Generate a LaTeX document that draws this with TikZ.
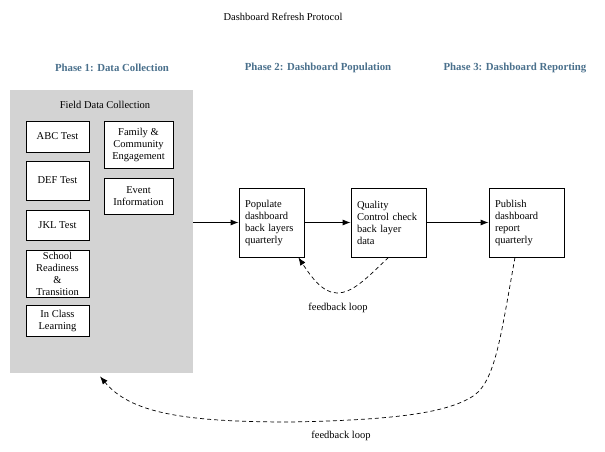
\documentclass[tikz,border=0pt]{standalone}
\usepackage{fontspec}
\setmainfont{Liberation Serif}
\usetikzlibrary{arrows.meta,calc}
\definecolor{phaseblue}{RGB}{74,112,140}
\definecolor{panelgray}{RGB}{211,211,211}
\tikzset{
  txt/.style={font=\fontsize{10.5}{12}\selectfont},
  phase/.style={font=\fontsize{10.8}{12}\selectfont\bfseries, text=phaseblue},
  inbox/.style={draw, line width=0.8pt, fill=white, txt, align=center, inner sep=1pt},
  stepbox/.style={draw, line width=0.8pt, fill=white, txt, align=left, inner xsep=6pt, inner ysep=0pt, minimum height=69pt},
  flow/.style={line width=0.8pt, -{Latex[length=8pt,width=6pt]}},
  fb/.style={line width=0.7pt, dash pattern=on 4pt off 3pt, -{Latex[length=8pt,width=6pt]}}
}
\begin{document}
\begin{tikzpicture}[x=1pt,y=-1pt]
\useasboundingbox (0,0) rectangle (605,452);
% title and phases
\node[txt] (title) at (283,17) {Dashboard Refresh Protocol};
\node[phase] (ph1) at (112,68) {Phase 1: Data Collection};
\node[phase] (ph2) at (318,68) {Phase 2: Dashboard Population};
\node[phase] (ph3) at (515,68) {Phase 3: Dashboard Reporting};
% gray panel
\node[fill=panelgray, minimum width=183pt, minimum height=283pt, inner sep=0pt, anchor=north west] (field) at (10,90) {};
\node[txt] (fieldlbl) at (105,105) {Field Data Collection};
% inner boxes
\node[inbox, minimum width=63pt, minimum height=31pt] (abc) at (57.5,136.5) {ABC Test};
\node[inbox, minimum width=63pt, minimum height=39pt] (def) at (57.5,180.5) {DEF Test};
\node[inbox, minimum width=63pt, minimum height=30pt] (jkl) at (57.5,225) {JKL Test};
\node[inbox, minimum width=63pt, minimum height=47pt] (school) at (57.5,273.5) {School\\Readiness\\\&\\Transition};
\node[inbox, minimum width=63pt, minimum height=31pt] (class) at (57.5,320.5) {In Class\\Learning};
\node[inbox, minimum width=69pt, minimum height=47pt] (family) at (138.5,144.5) {Family \&\\Community\\Engagement};
\node[inbox, minimum width=69pt, minimum height=36pt] (event) at (138.5,196) {Event\\Information};
% process boxes
\node[stepbox, text width=53pt] (pop) at (271.5,222.5) {Populate\\dashboard\\back layers\\quarterly};
\node[stepbox, text width=63pt] (qc) at (388.5,222.5) {Quality\\Control check\\back layer\\data};
\node[stepbox, text width=63pt] (pub) at (526.5,222.5) {Publish\\dashboard\\report\\quarterly};
% flow arrows
\draw[flow] (field.east |- pop.west) -- (pop.west);
\draw[flow] (pop.east) -- (qc.west);
\draw[flow] (qc.east) -- (pub.west);
% feedback loop 1
\coordinate (fb1end) at ([xshift=-6pt]pop.south east);
\draw[fb] (qc.south) .. controls (365,280) and (352,293) .. (337,293)
  .. controls (322,293) and (310,275) .. (fb1end);
\node[txt] (fb1lbl) at (338,308) {feedback loop};
% feedback loop 2
\coordinate (fb2start) at ([xshift=-11.5pt]pub.south);
\coordinate (fb2end) at ([xshift=90pt,yshift=-3pt]field.south west);
\draw[fb] (fb2start) .. controls (500,340) and (495,385) .. (470,398)
  .. controls (445,412) and (400,420) .. (290,422)
  .. controls (180,422) and (130,412) .. (fb2end);
\node[txt] (fb2lbl) at (341,436) {feedback loop};
\end{tikzpicture}
\end{document}
